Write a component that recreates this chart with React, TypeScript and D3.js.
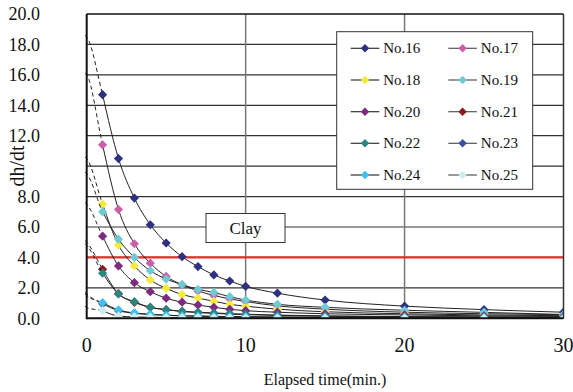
import React from "react";
import * as d3 from "d3";

const times = [1, 2, 3, 4, 5, 6, 7, 8, 9, 10, 12, 15, 20, 25, 30];
const seriesNames = ["No.16", "No.17", "No.18", "No.19", "No.20", "No.21", "No.22", "No.23", "No.24", "No.25"];
const s16 = [14.7, 10.5, 7.9, 6.15, 4.95, 4.05, 3.4, 2.85, 2.45, 2.1, 1.65, 1.2, 0.8, 0.57, 0.4];
const s17 = [11.4, 7.15, 4.9, 3.62, 2.75, 2.2, 1.8, 1.5, 1.28, 1.1, 0.82, 0.6, 0.4, 0.3, 0.24];
const s18 = [7.5, 4.82, 3.44, 2.52, 1.97, 1.56, 1.33, 1.12, 0.92, 0.8, 0.6, 0.43, 0.3, 0.22, 0.17];
const s19 = [7.0, 5.2, 4.0, 3.13, 2.58, 2.22, 1.9, 1.7, 1.42, 1.2, 0.92, 0.72, 0.53, 0.39, 0.25];
const s20 = [5.4, 3.44, 2.34, 1.75, 1.32, 1.06, 0.87, 0.72, 0.59, 0.5, 0.4, 0.3, 0.22, 0.16, 0.12];
const s21 = [3.22, 1.62, 1.05, 0.72, 0.57, 0.45, 0.38, 0.32, 0.28, 0.24, 0.19, 0.14, 0.1, 0.08, 0.06];
const s22 = [2.96, 1.6, 1.09, 0.72, 0.57, 0.46, 0.4, 0.35, 0.31, 0.27, 0.21, 0.16, 0.11, 0.09, 0.07];
const s23 = [0.95, 0.5, 0.33, 0.25, 0.2, 0.16, 0.14, 0.12, 0.11, 0.1, 0.08, 0.06, 0.05, 0.04, 0.03];
const s24 = [1.03, 0.55, 0.35, 0.26, 0.2, 0.17, 0.15, 0.13, 0.11, 0.1, 0.08, 0.07, 0.05, 0.04, 0.03];
const s25 = [0.5, 0.15, 0.09, 0.07, 0.05, 0.04, 0.04, 0.03, 0.03, 0.03, 0.02, 0.02, 0.02, 0.01, 0.01];
const seriesValues = [s16, s17, s18, s19, s20, s21, s22, s23, s24, s25];
const startValues = [18.5, 16.0, 10.5, 9.5, 7.5, 5.0, 4.8, 1.6, 1.5, 0.7];
const seriesColors = ["#2E3082", "#CC5FAA", "#F2EA3C", "#6DCBD6", "#7D2A80", "#8A1C1E", "#2A8780", "#3B4FA5", "#3FC0EE", "#CDECF0"];
const yTicks = [0, 2, 4, 6, 8, 10, 12, 14, 16, 18, 20];
// the 10.0 label is covered by the axis title in the reference
const yTickLabels = [0, 2, 4, 6, 8, 12, 14, 16, 18, 20];
const xTicks = [0, 10, 20, 30];
const clayLevel = 4.0;

const FONT = "'Liberation Serif', 'Times New Roman', serif";

const L = 86.7, R = 563.5, T = 14, B = 318.3;

const diamond = (r: number) => `M0,${-r}L${r},0L0,${r}L${-r},0Z`;

export default function App() {
  const x = d3.scaleLinear().domain([0, 30]).range([L, R]);
  const y = d3.scaleLinear().domain([0, 20]).range([B, T]);
  const line = d3
    .line<[number, number]>()
    .x((d) => x(d[0]))
    .y((d) => y(d[1]))
    .curve(d3.curveMonotoneX);

  const legendX = [350.7, 448.3];
  const legendY = [48.3, 80, 111.7, 143.3, 175];

  return (
    <svg width={573} height={392} style={{ position: "absolute", left: 0, top: 0, background: "#fff" }} fontFamily={FONT}>
      <defs>
        <clipPath id="dashclip">
          <rect x={x(0) - 3} y={0} width={x(1) - x(0) + 3} height={B} />
        </clipPath>
        <clipPath id="plotclip">
          <rect x={L - 3} y={T} width={R - L + 3} height={B - T} />
        </clipPath>
      </defs>
      <rect x={0} y={0} width={573} height={392} fill="#fff" />
      {yTicks.filter((t) => t > 0 && t < 20).map((t) => (
        <line key={t} x1={L} x2={R} y1={y(t)} y2={y(t)} stroke="#333" strokeWidth={1.2} />
      ))}
      {xTicks.filter((t) => t > 0 && t < 30).map((t) => (
        <line key={t} x1={x(t)} x2={x(t)} y1={T} y2={B} stroke="#777" strokeWidth={1.5} />
      ))}
      <line x1={L} x2={R} y1={y(clayLevel)} y2={y(clayLevel)} stroke="#E8302A" strokeWidth={2.2} />
      <g clipPath="url(#plotclip)">
        {seriesValues.map((vals, i) => {
          const pts: [number, number][] = times.map((t, j) => [t, vals[j]]);
          const dashPts: [number, number][] = [[-0.1, startValues[i] + 0.1], [0, startValues[i]], [1, vals[0]], [2, vals[1]]];
          return (
            <g key={i}>
              <path d={line(dashPts) || ""} fill="none" stroke="#222" strokeWidth={1} strokeDasharray="4,3" clipPath="url(#dashclip)" />
              <path d={line(pts) || ""} fill="none" stroke="#222" strokeWidth={1} />
              {pts.map((p, j) => (
                <path key={j} d={diamond(4.6)} transform={`translate(${x(p[0])},${y(p[1])})`} fill={seriesColors[i]} />
              ))}
            </g>
          );
        })}
      </g>
      <line x1={L} x2={R} y1={T} y2={T} stroke="#111" strokeWidth={1.5} />
      <line x1={R} x2={R} y1={T} y2={B} stroke="#333" strokeWidth={1.5} />
      <line x1={L} x2={L} y1={T} y2={B + 1} stroke="#111" strokeWidth={2} />
      <line x1={L} x2={R} y1={B} y2={B} stroke="#111" strokeWidth={2} />
      <rect x={206} y={213.5} width={79} height={29} fill="#fff" stroke="#333" strokeWidth={1} />
      <text x={245.5} y={234} fontSize={17} textAnchor="middle" fill="#111">Clay</text>
      <rect x={336.7} y={31.7} width={196} height={157.6} fill="#fff" stroke="#333" strokeWidth={1} />
      {seriesNames.map((name, i) => {
        const col = i % 2;
        const row = Math.floor(i / 2);
        const lx = legendX[col];
        const ly = legendY[row];
        return (
          <g key={name}>
            <line x1={lx} x2={lx + 28.6} y1={ly} y2={ly} stroke={col === 0 ? "#333" : "#555"} strokeWidth={1.2} />
            <path d={diamond(4.2)} transform={`translate(${lx + 14.3},${ly})`} fill={seriesColors[i]} />
            <text x={lx + 32.5} y={ly + 5} fontSize={15} fill="#111">{name}</text>
          </g>
        );
      })}
      {yTickLabels.map((t) => (
        <text key={t} x={40} y={y(t)} dy="0.35em" fontSize={18} textAnchor="end" fill="#111">
          {t.toFixed(1)}
        </text>
      ))}
      {xTicks.map((t) => (
        <text key={t} x={x(t)} y={351.5} fontSize={20} textAnchor="middle" fill="#111">
          {t}
        </text>
      ))}
      <text x={325} y={385} fontSize={16} textAnchor="middle" fill="#111">Elapsed time(min.)</text>
      <text transform={`translate(24,166) rotate(-90)`} fontSize={20} textAnchor="middle" fill="#111">dh/dt</text>
    </svg>
  );
}
